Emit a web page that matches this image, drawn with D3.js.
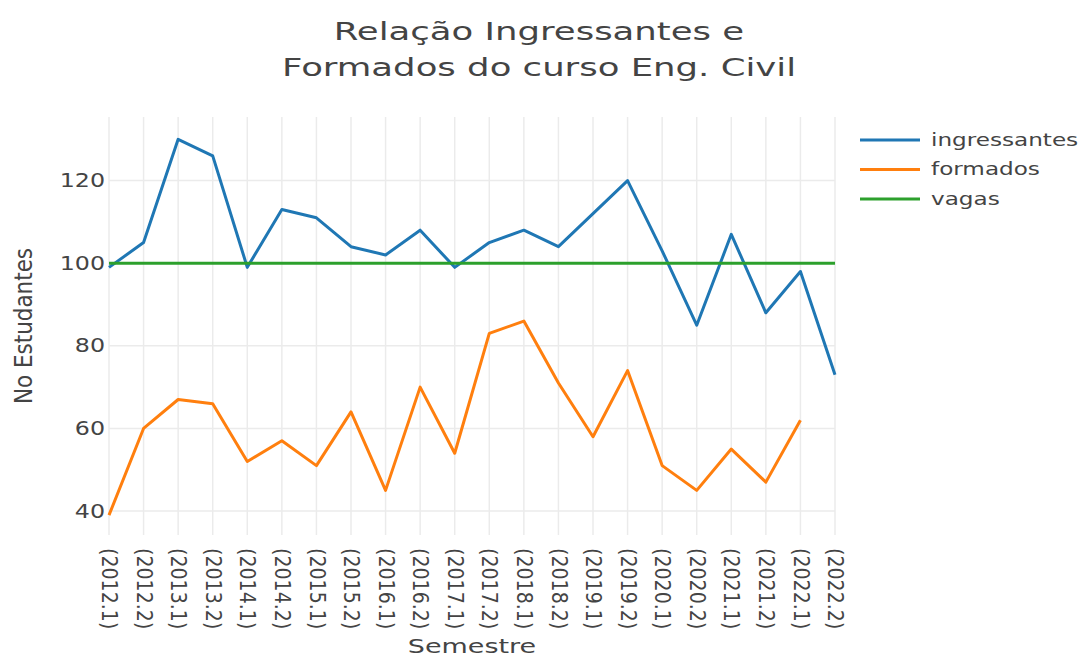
<!DOCTYPE html>
<html>
<head>
<meta charset="utf-8">
<script src="https://cdn.jsdelivr.net/npm/d3@7"></script>
<style>
  html, body { margin: 0; padding: 0; background: #fff; }
  svg { display: block; font-family: "DejaVu Sans", Verdana, sans-serif; }
</style>
</head>
<body>
<svg></svg>
<script>
const semestres = ["(2012.1)", "(2012.2)", "(2013.1)", "(2013.2)", "(2014.1)", "(2014.2)",
  "(2015.1)", "(2015.2)", "(2016.1)", "(2016.2)", "(2017.1)", "(2017.2)", "(2018.1)",
  "(2018.2)", "(2019.1)", "(2019.2)", "(2020.1)", "(2020.2)", "(2021.1)", "(2021.2)",
  "(2022.1)", "(2022.2)"];
const ingressantes = [99, 105, 130, 126, 99, 113, 111, 104, 102, 108, 99, 105, 108, 104,
  112, 120, 103, 85, 107, 88, 98, 73];
const formados = [39, 60, 67, 66, 52, 57, 51, 64, 45, 70, 54, 83, 86, 71, 58, 74, 51, 45,
  55, 47, 62, null];
const vagas = semestres.map(() => 100);
const yTicks = [40, 60, 80, 100, 120];

const series = [
  { name: "ingressantes", values: ingressantes, color: "#1f77b4" },
  { name: "formados", values: formados, color: "#ff7f0e" },
  { name: "vagas", values: vagas, color: "#2ca02c" },
];

const width = 1087;
const height = 657;
const plot = { left: 109, right: 835, top: 117, bottom: 535 };
const textColor = "#444";

const svg = d3.select("svg").attr("width", width).attr("height", height);

const x = d3.scalePoint().domain(semestres).range([plot.left, plot.right]);
const y = d3.scaleLinear().domain([34.2, 135.4]).range([plot.bottom, plot.top]);

// grid
svg.append("g")
  .selectAll("line")
  .data(semestres)
  .join("line")
  .attr("x1", (d) => x(d))
  .attr("x2", (d) => x(d))
  .attr("y1", plot.top)
  .attr("y2", plot.bottom)
  .attr("stroke", "#ebebeb")
  .attr("stroke-width", 1.5);

svg.append("g")
  .selectAll("line")
  .data(yTicks)
  .join("line")
  .attr("x1", plot.left)
  .attr("x2", plot.right)
  .attr("y1", (d) => y(d))
  .attr("y2", (d) => y(d))
  .attr("stroke", "#ebebeb")
  .attr("stroke-width", 1.5);

// y axis
const yAxisG = svg.append("g")
  .attr("transform", `translate(${plot.left - 4},0)`)
  .call(d3.axisLeft(y).tickValues(yTicks).tickSize(0).tickPadding(0));
yAxisG.select(".domain").remove();
yAxisG.selectAll("text")
  .attr("font-family", "DejaVu Sans, sans-serif")
  .attr("font-size", 19)
  .attr("fill", textColor)
  .attr("transform", "scale(1.25,1)");

// x axis
const xAxisG = svg.append("g")
  .attr("transform", `translate(0,${plot.bottom})`)
  .call(d3.axisBottom(x).tickSize(0));
xAxisG.select(".domain").remove();
xAxisG.selectAll("text")
  .attr("font-family", "DejaVu Sans, sans-serif")
  .attr("font-size", 19)
  .attr("fill", textColor)
  .attr("text-anchor", "start")
  .attr("dy", "0.35em")
  .attr("transform", "translate(0,13) scale(1.1,1) rotate(90)")
  .attr("x", 0)
  .attr("y", 0);

// lines
const line = d3.line()
  .defined((d) => d != null)
  .x((d, i) => x(semestres[i]))
  .y((d) => y(d));

svg.append("g")
  .selectAll("path")
  .data(series)
  .join("path")
  .attr("d", (s) => line(s.values))
  .attr("fill", "none")
  .attr("stroke", (s) => s.color)
  .attr("stroke-width", 3)
  .attr("stroke-linejoin", "round");

// titles
const titleLines = ["Relação Ingressantes e", "Formados do curso Eng. Civil"];
svg.append("g")
  .selectAll("text")
  .data(titleLines)
  .join("text")
  .attr("text-anchor", "middle")
  .attr("font-size", 25)
  .attr("fill", textColor)
  .attr("transform", (d, i) => `translate(539,${40 + i * 36}) scale(1.42,1)`)
  .text((d) => d);

svg.append("text")
  .attr("text-anchor", "middle")
  .attr("transform", `translate(${(plot.left + plot.right) / 2},653) scale(1.42,1)`)
  .attr("font-size", 19)
  .attr("fill", textColor)
  .text("Semestre");

svg.append("text")
  .attr("text-anchor", "middle")
  .attr("transform", `translate(32,326) scale(1.12,1) rotate(-90)`)
  .attr("font-size", 21.5)
  .attr("fill", textColor)
  .text("No Estudantes");

// legend
const legend = svg.append("g").attr("transform", "translate(860,140)");
const items = legend.selectAll("g")
  .data(series)
  .join("g")
  .attr("transform", (d, i) => `translate(0,${i * 29.5})`);
items.append("line")
  .attr("x1", 0)
  .attr("x2", 60)
  .attr("stroke", (d) => d.color)
  .attr("stroke-width", 3);
items.append("text")
  .attr("dy", "0.35em")
  .attr("font-size", 17)
  .attr("fill", textColor)
  .attr("transform", "translate(71,0) scale(1.36,1)")
  .text((d) => d.name);
</script>
</body>
</html>
